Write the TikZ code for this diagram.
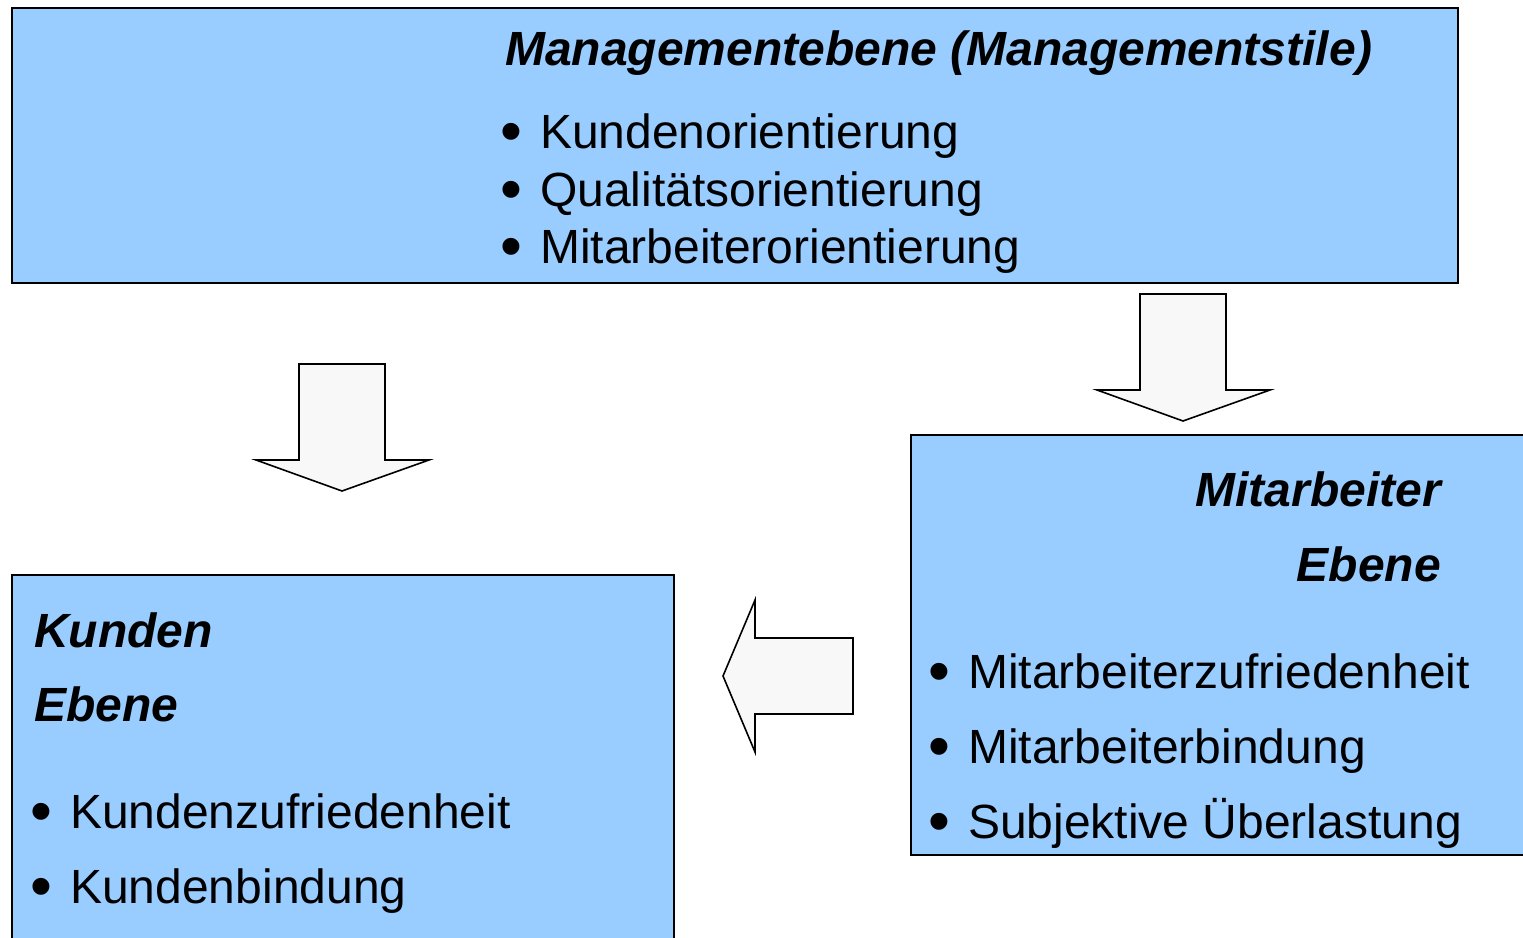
\documentclass[tikz,border=0pt]{standalone}
\usepackage{fontspec}
\setmainfont{Liberation Sans}
\definecolor{boxblue}{HTML}{99CCFF}
\definecolor{arrowgrey}{HTML}{F8F8F8}
\newcommand{\bul}[1]{\makebox[40pt][l]{\raisebox{-4pt}{\scalebox{1.3}{•}}}#1}

\begin{document}
\begin{tikzpicture}[x=1pt,y=-1pt,
    ebenebox/.style={draw, line width=2pt, fill=boxblue, anchor=north west, inner sep=0pt},
    blockarrow/.style={draw, line width=1.6pt, fill=arrowgrey, line join=miter},
    heading/.style={inner sep=0pt, font=\fontsize{48}{57}\selectfont\bfseries\itshape},
    item/.style={anchor=base west, inner sep=0pt, font=\fontsize{48}{57}\selectfont}]
    \useasboundingbox (0,0) rectangle (1523,937);

    % Ebenen
    \node[ebenebox, minimum width=1446pt, minimum height=275pt] (mgmt) at (11,7) {};
    \node[ebenebox, minimum width=640pt, minimum height=420pt] (mitarb) at (910,434) {};
    \node[ebenebox, minimum width=662pt, minimum height=380pt] (kunden) at (11,574) {};

    % Managementebene
    \node[heading, anchor=base west] (mgmttitle) at (505,65) {Managementebene (Managementstile)};
    \node[item] (m1) at (500,148) {\bul{Kundenorientierung}};
    \node[item] (m2) at (500,206) {\bul{Qualitätsorientierung}};
    \node[item] (m3) at (500,263) {\bul{Mitarbeiterorientierung}};

    % Mitarbeiter Ebene
    \node[heading, anchor=base east] (mtitle1) at (1441,506) {Mitarbeiter};
    \node[heading, anchor=base east] (mtitle2) at (1441,581) {Ebene};
    \node[item] (a1) at (928,688) {\bul{Mitarbeiterzufriedenheit}};
    \node[item] (a2) at (928,763) {\bul{Mitarbeiterbindung}};
    \node[item] (a3) at (928,838) {\bul{Subjektive Überlastung}};

    % Kunden Ebene
    \node[heading, anchor=base west] (ktitle1) at (34,647) {Kunden};
    \node[heading, anchor=base west] (ktitle2) at (34,721) {Ebene};
    \node[item] (k1) at (30,828) {\bul{Kundenzufriedenheit}};
    \node[item] (k2) at (30,903) {\bul{Kundenbindung}};

    % Pfeile
    \draw[blockarrow] (1140,294) -- (1226,294) -- (1226,390) -- (1270,390)
        -- (1183,421) -- (1097,390) -- (1140,390) -- cycle;
    \draw[blockarrow] (299,364) -- (385,364) -- (385,460) -- (429,460)
        -- (342,491) -- (256,460) -- (299,460) -- cycle;
    \draw[blockarrow] (853,638) -- (853,714) -- (755,714) -- (755,752)
        -- (723,676) -- (755,600) -- (755,638) -- cycle;
\end{tikzpicture}
\end{document}
